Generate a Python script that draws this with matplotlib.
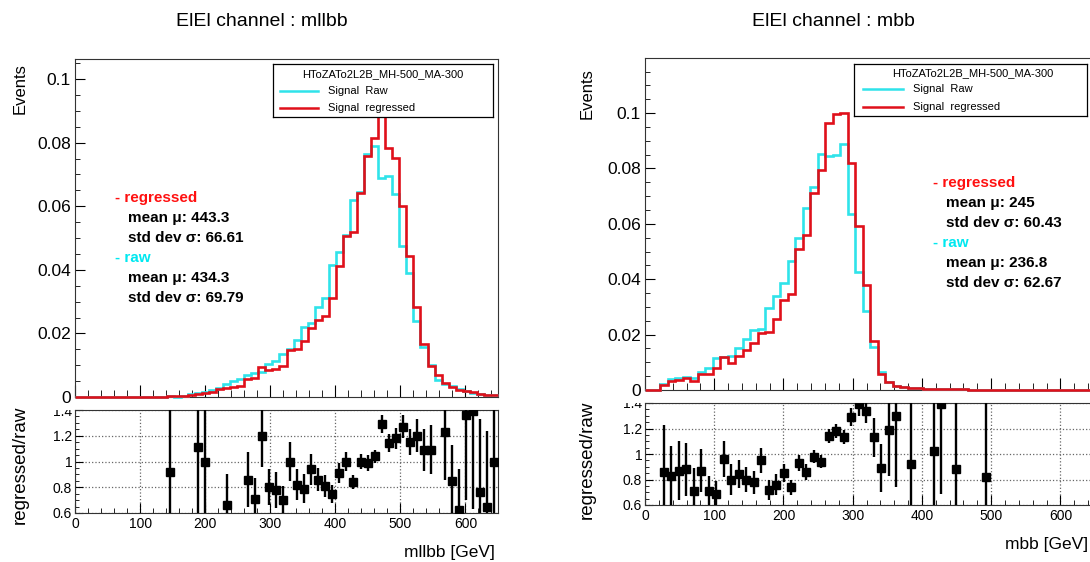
import matplotlib
matplotlib.use('Agg')
import matplotlib.pyplot as plt
import numpy as np
from matplotlib.ticker import MultipleLocator, FuncFormatter
from matplotlib.patches import Rectangle

plt.rcParams['font.family'] = ['Liberation Sans', 'DejaVu Sans']

# binning: 60 bins from 0 to 650 GeV
nbins = 60
xmax = 650.0

# ---- mllbb panel ----
mllbb_raw = [0, 0, 0, 0, 0, 0, 0, 0, 0, 0, 0, 0, 0,
             0.0002, 0.0001, 0.0004, 0.0010, 0.0012, 0.0017, 0.0022, 0.0027,
             0.0042, 0.0050, 0.0058, 0.0068, 0.0076, 0.0079, 0.0104, 0.0112,
             0.0135, 0.0150, 0.0179, 0.0221, 0.0232, 0.0284, 0.0310, 0.0415,
             0.0457, 0.0510, 0.0620, 0.0645, 0.0765, 0.0790, 0.0690, 0.0695,
             0.0640, 0.0476, 0.0390, 0.0238, 0.0158, 0.0100, 0.0052, 0.0042,
             0.0034, 0.0025, 0.0018, 0.0013, 0.0009, 0.0007, 0.0006]
mllbb_reg = [0, 0, 0, 0, 0, 0, 0, 0, 0, 0, 0, 0, 0,
             0.00018, 0.0003, 0.0003, 0.0005, 0.0010, 0.0012, 0.0016, 0.0024,
             0.0028, 0.0033, 0.0036, 0.0056, 0.0060, 0.0094, 0.0085, 0.0088,
             0.0098, 0.0148, 0.0150, 0.0175, 0.0217, 0.0243, 0.0255, 0.0310,
             0.0412, 0.0505, 0.0520, 0.0643, 0.0757, 0.0816, 0.0920, 0.0782,
             0.0752, 0.0602, 0.0445, 0.0283, 0.0167, 0.0098, 0.0070, 0.0044,
             0.0033, 0.0021, 0.0018, 0.0015, 0.0010, 0.0006, 0.0006]
mllbb_ratio_bin = [13, 17, 18, 21, 24, 25, 26, 27, 28, 29, 30, 31, 32, 33, 34, 35,
                   36, 37, 38, 39, 40, 41, 42, 43, 44, 45, 46, 47, 48, 49, 50, 52,
                   53, 54, 55, 56, 57, 58, 59]
mllbb_ratio = [0.92, 1.11, 1.00, 0.66, 0.86, 0.71, 1.20, 0.80, 0.78, 0.70, 1.00,
               0.82, 0.79, 0.94, 0.86, 0.81, 0.75, 0.91, 1.00, 0.84, 1.00, 0.99,
               1.04, 1.29, 1.14, 1.18, 1.27, 1.15, 1.20, 1.09, 1.09, 1.23, 0.85,
               0.62, 1.36, 1.39, 0.76, 0.65, 1.00]
mllbb_ratio_err = [0.60, 0.60, 0.60, 0.24, 0.21, 0.16, 0.24, 0.14, 0.14, 0.11, 0.15,
                   0.12, 0.11, 0.12, 0.09, 0.085, 0.07, 0.075, 0.07, 0.055, 0.06, 0.06,
                   0.05, 0.07, 0.07, 0.08, 0.09, 0.10, 0.13, 0.16, 0.19, 0.37, 0.28,
                   0.32, 0.66, 0.76, 0.57, 0.59, 0.60]

# ---- mbb panel ----
mbb_raw = [0, 0, 0.0021, 0.0040, 0.0042, 0.0048, 0.0045, 0.0066, 0.0078, 0.0114,
           0.0120, 0.0123, 0.0150, 0.0183, 0.0217, 0.0219, 0.0297, 0.0340, 0.0385,
           0.0466, 0.0550, 0.0656, 0.0732, 0.0854, 0.0846, 0.0850, 0.0890, 0.0635,
           0.0425, 0.0285, 0.0156, 0.0065, 0.0030, 0.0015, 0.0010, 0.0008, 0.0006,
           0.0005, 0.0004, 0.0003, 0.0003, 0.0002, 0.0002, 0.0001, 0.0001, 0.0001,
           0, 0, 0, 0, 0, 0, 0, 0, 0, 0, 0, 0, 0, 0]
mbb_reg = [0, 0, 0.0018, 0.0033, 0.0036, 0.0042, 0.0032, 0.0058, 0.0058, 0.0080,
           0.0120, 0.0098, 0.0122, 0.0145, 0.0168, 0.0207, 0.0210, 0.0257, 0.0326,
           0.0345, 0.0508, 0.0560, 0.0712, 0.0795, 0.0963, 0.0998, 0.1000, 0.0820,
           0.0592, 0.0381, 0.0178, 0.0058, 0.0030, 0.0014, 0.0010, 0.0007, 0.0006,
           0.0005, 0.0004, 0.0004, 0.0003, 0.0002, 0.0002, 0.0001, 0.0001, 0.0001,
           0, 0, 0, 0, 0, 0, 0, 0, 0, 0, 0, 0, 0, 0]
mbb_ratio_bin = [2, 3, 4, 5, 6, 7, 8, 9, 10, 11, 12, 13, 14, 15, 16, 17, 18, 19, 20,
                 21, 22, 23, 24, 25, 26, 27, 28, 29, 30, 31, 32, 33, 35, 38, 39, 41, 45]
mbb_ratio = [0.86, 0.83, 0.87, 0.88, 0.71, 0.87, 0.71, 0.69, 0.96, 0.80, 0.84, 0.80,
             0.78, 0.95, 0.72, 0.76, 0.85, 0.74, 0.93, 0.86, 0.98, 0.94, 1.14, 1.18,
             1.13, 1.29, 1.39, 1.34, 1.13, 0.89, 1.19, 1.30, 0.92, 1.02, 1.39, 0.88, 0.82]
mbb_ratio_err = [0.37, 0.23, 0.23, 0.21, 0.18, 0.17, 0.12, 0.10, 0.14, 0.12, 0.11, 0.10,
                 0.09, 0.10, 0.08, 0.08, 0.07, 0.06, 0.06, 0.06, 0.05, 0.05, 0.055, 0.055,
                 0.055, 0.07, 0.09, 0.10, 0.15, 0.19, 0.36, 0.56, 0.70, 0.70, 0.70, 0.70, 0.70]

legend_title = 'HToZATo2L2B_MH-500_MA-300'
stats_mllbb = [('- regressed', 'red'), ('mean \u03bc: 443.3', 'k'), ('std dev \u03c3: 66.61', 'k'),
               ('- raw', 'cyan'), ('mean \u03bc: 434.3', 'k'), ('std dev \u03c3: 69.79', 'k')]
stats_mbb = [('- regressed', 'red'), ('mean \u03bc: 245', 'k'), ('std dev \u03c3: 60.43', 'k'),
             ('- raw', 'cyan'), ('mean \u03bc: 236.8', 'k'), ('std dev \u03c3: 62.67', 'k')]

CYAN = '#2fe3ea'
RED = '#e0101a'
TXTCOL = {'red': '#ff1010', 'cyan': '#00e8f0', 'k': 'black'}

W, H = 1090, 562
fig = plt.figure(figsize=(W / 100, H / 100), dpi=100)


def box(l, t, r, b):
    return [l / W, 1 - b / H, (r - l) / W, (b - t) / H]


def fx(x):
    return x / W


def fy(y):
    return 1 - y / H


edges = np.linspace(0, xmax, nbins + 1)
centers = 0.5 * (edges[1:] + edges[:-1])
gfmt = FuncFormatter(lambda v, p: '%g' % round(v, 6))


def panel(mbox, rbox, raw, reg, ymax, rbin, rval, rerr, title, tx, xlabel, xl_x, xl_y,
          lbox, lg, stats, sx, sy, ylab_x, ev_top, rr_y, mask):
    ax = fig.add_axes(box(*mbox))
    ax.stairs(raw, edges, color=CYAN, lw=1.9, baseline=None, zorder=3, clip_on=False)
    ax.stairs(reg, edges, color=RED, lw=1.9, baseline=None, zorder=4, clip_on=False)
    ax.set_xlim(0, xmax)
    ax.set_ylim(0, ymax)
    ax.xaxis.set_major_locator(MultipleLocator(100))
    ax.xaxis.set_minor_locator(MultipleLocator(20))
    ax.yaxis.set_major_locator(MultipleLocator(0.02))
    ax.yaxis.set_minor_locator(MultipleLocator(0.005))
    ax.yaxis.set_major_formatter(gfmt)
    ax.tick_params(which='both', direction='in', top=False, right=False, labelbottom=False)
    ax.tick_params(axis='x', which='major', length=9)
    ax.tick_params(axis='x', which='minor', length=5)
    ax.tick_params(axis='y', which='major', length=7, labelsize=12.5, pad=3)
    ax.tick_params(axis='y', which='minor', length=3.5)
    for s in ax.spines.values():
        s.set_linewidth(0.8)
        s.set_color('#333333')

    rx = fig.add_axes(box(*rbox))
    rx.errorbar(centers[rbin], rval, yerr=rerr, fmt='s', color='black', ms=5.8,
                elinewidth=1.7, capsize=0, zorder=3)
    rx.set_xlim(0, xmax)
    rx.set_ylim(0.6, 1.4)
    rx.xaxis.set_major_locator(MultipleLocator(100))
    rx.xaxis.set_minor_locator(MultipleLocator(20))
    rx.yaxis.set_major_locator(MultipleLocator(0.2))
    rx.yaxis.set_minor_locator(MultipleLocator(0.05))
    rx.yaxis.set_major_formatter(gfmt)
    rx.grid(True, which='major', linestyle=':', color='#666666', lw=0.9)
    rx.tick_params(which='both', direction='in', top=False, right=False, labelsize=10)
    rx.tick_params(axis='x', which='major', length=7, pad=3)
    rx.tick_params(axis='x', which='minor', length=3.5)
    rx.tick_params(axis='y', which='major', length=6, pad=2)
    rx.tick_params(axis='y', which='minor', length=3)
    for s in rx.spines.values():
        s.set_linewidth(0.8)
        s.set_color('#333333')

    # hide upper half of the top ratio label, as the upper pad does
    fig.patches.append(Rectangle((fx(mask[0]), fy(mask[2])), (mask[1] - mask[0]) / W,
                                 (mask[2] - mask[3]) / H, transform=fig.transFigure,
                                 facecolor='white', edgecolor='none', zorder=10))

    fig.text(fx(tx), fy(22), title, ha='center', va='center', fontsize=14)
    fig.text(fx(xl_x), fy(xl_y), xlabel, ha='right', va='center', fontsize=12.5)
    fig.text(fx(ylab_x), fy(ev_top), 'Events', ha='center', va='top', rotation=90, fontsize=12)
    fig.text(fx(ylab_x), fy(rr_y), 'regressed/raw', ha='center', va='center',
             rotation=90, fontsize=13.5)

    # legend box
    la = fig.add_axes(box(*lbox))
    la.set_xlim(0, lbox[2] - lbox[0])
    la.set_ylim(lbox[3] - lbox[1], 0)
    la.set_xticks([])
    la.set_yticks([])
    for s in la.spines.values():
        s.set_linewidth(0.9)
    la.text(lg[0], lg[1], legend_title, ha='center', va='center', fontsize=8)
    la.plot([lg[2], lg[3]], [lg[4], lg[4]], color=CYAN, lw=1.8)
    la.plot([lg[2], lg[3]], [lg[5], lg[5]], color=RED, lw=1.8)
    la.text(lg[6], lg[4], 'Signal  Raw', va='center', fontsize=8)
    la.text(lg[6], lg[5], 'Signal  regressed', va='center', fontsize=8)

    for i, (s, c) in enumerate(stats):
        x = sx if s.startswith('-') else sx + 13
        fig.text(fx(x), fy(sy + 20 * i), s, color=TXTCOL[c], fontsize=11,
                 fontweight='bold', va='center')


panel((75, 59, 498, 397), (75, 410, 498, 513), mllbb_raw, mllbb_reg, 0.1063,
      mllbb_ratio_bin, mllbb_ratio, mllbb_ratio_err,
      'ElEl channel : mllbb', 262, 'mllbb [GeV]', 495, 552,
      (273, 64, 493, 117), (110, 10, 7, 45, 27, 44, 55),
      stats_mllbb, 115, 198, 20, 63, 465, (30, 74, 409.5, 404.5))

panel((645, 58, 1095, 390), (645, 403, 1095, 505), mbb_raw, mbb_reg, 0.1199,
      mbb_ratio_bin, mbb_ratio, mbb_ratio_err,
      'ElEl channel : mbb', 833, 'mbb [GeV]', 1088, 545,
      (854, 64, 1087, 116), (119, 9, 9, 49, 25, 43, 59),
      stats_mbb, 933, 183, 587, 68, 460, (600, 644, 402.5, 396.5))

fig.savefig('out.png', dpi=100)
